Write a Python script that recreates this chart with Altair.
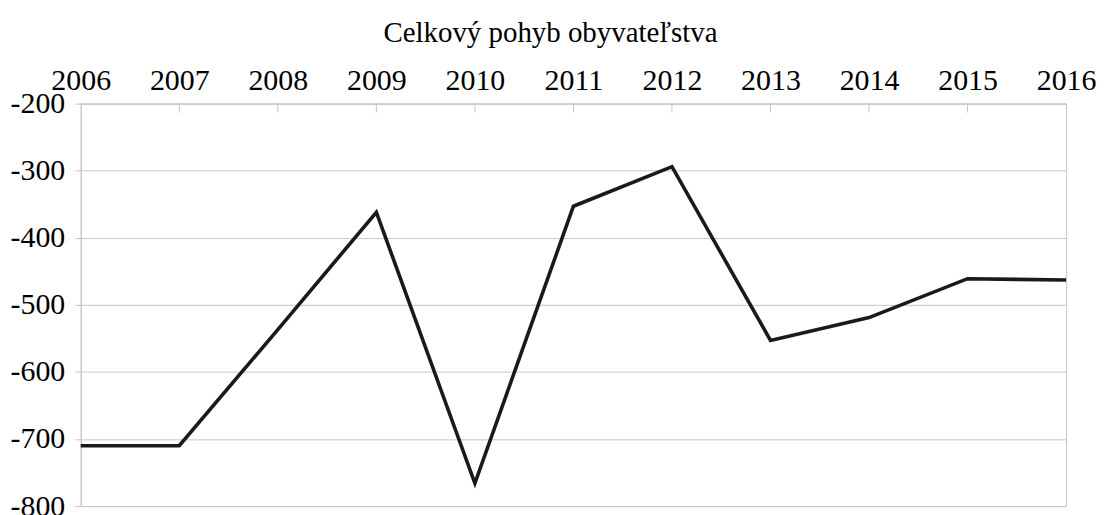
import altair as alt
import pandas as pd

years = [2006, 2007, 2008, 2009, 2010, 2011, 2012, 2013, 2014, 2015, 2016]
values = [-710, -710, -537, -362, -766, -353, -294, -553, -519, -461, -463]
y_ticks = [-200, -300, -400, -500, -600, -700, -800]
title_text = "Celkový pohyb obyvateľstva"

df = pd.DataFrame({"rok": years, "hodnota": values})
ticks_df = pd.DataFrame({"rok": years[1:-1]})

FONT = "Liberation Serif"
GRID = "#c6c6c6"

x_scale = alt.Scale(domain=[2006, 2016], nice=False, zero=False)
y_scale = alt.Scale(domain=[-800, -200], nice=False, zero=False)

x_axis = alt.Axis(orient="top", values=years, labelExpr="datum.value + ''", title=None,
                  grid=False, ticks=False, labelPadding=8, domainColor=GRID,
                  labelFont=FONT, labelFontSize=30, labelColor="#000000",
                  labelFlush=False, labelOverlap=False)
y_axis = alt.Axis(values=y_ticks, labelExpr="datum.value + ''", title=None,
                  grid=True, gridColor=GRID, tickColor=GRID, tickSize=6,
                  labelFont=FONT, labelFontSize=30, labelColor="#000000",
                  labelPadding=10, domainColor=GRID, labelFlush=False,
                  labelOverlap=False)

line = alt.Chart(df).mark_line(color="#1a1a1a", strokeWidth=3.6, strokeJoin="miter").encode(
    x=alt.X("rok:Q", scale=x_scale, axis=x_axis),
    y=alt.Y("hodnota:Q", scale=y_scale, axis=y_axis),
)

ticks = alt.Chart(ticks_df).mark_rule(color=GRID, strokeWidth=1).encode(
    x=alt.X("rok:Q", scale=x_scale, axis=x_axis),
    y=alt.value(0),
    y2=alt.value(9),
)

chart = alt.layer(ticks, line).properties(
    width=989,
    height=404,
    title=alt.TitleParams(title_text, font=FONT, fontSize=29, fontWeight="normal",
                          color="#000000", anchor="middle", dx=-23, offset=18),
    autosize=alt.AutoSizeParams(type="none"),
    padding={"left": 73, "top": 95, "right": 31, "bottom": 8},
).configure(font=FONT).configure_view(stroke=GRID, strokeWidth=1).configure_axis(
    labelFont=FONT, labelFontSize=30, labelColor="#000000"
)

chart.save("out.html", embed_options={"renderer": "svg", "actions": False})
